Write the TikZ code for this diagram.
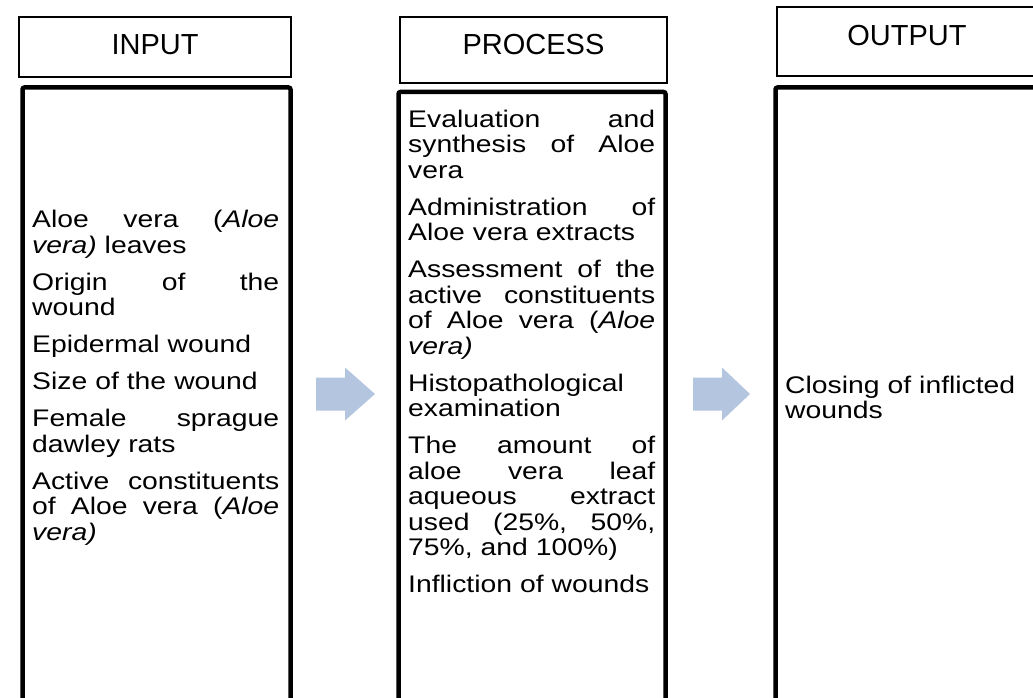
\documentclass[tikz,border=0pt]{standalone}
\usepackage{fontspec}
\setmainfont{Liberation Sans}
\newfontfamily\bodyfnt[FakeStretch=1.18]{Liberation Sans}
\definecolor{arrowblue}{RGB}{180,197,223}
\newcommand{\jl}[1]{\leavevmode\hbox to 247pt{#1}}
\newcommand{\fs}{\rule{0pt}{18pt}}
\newcommand{\nl}{\hfil\break}
\newcommand{\gap}{ \hfill}
\newcommand{\bodysetup}{\setlength\parindent{0pt}\setlength\parskip{11.5pt}}
\begin{document}
\begin{tikzpicture}[x=1pt,y=-1pt,
  headbox/.style={draw=black, line width=1.2pt, rectangle, inner sep=0pt},
  headtext/.style={font=\fontsize{29}{34}\selectfont, inner sep=0pt},
  bodybox/.style={draw=black, line width=4.5pt, rounded corners=2pt, rectangle, inner sep=0pt},
  bodytext/.style={font=\bodyfnt\fontsize{24}{25.5}\selectfont, text width=247pt, inner sep=0pt, anchor=north west},
  flowarrow/.style={fill=arrowblue}]
\useasboundingbox (0,0) rectangle (1033,698);
\clip (0,0) rectangle (1033,698);

% headers
\node[headbox, minimum width=272pt, minimum height=60pt] (hin) at (155,47) {};
\node[headtext] (tin) at (155,45) {INPUT};
\node[headbox, minimum width=267pt, minimum height=66pt] (hpro) at (533.5,50) {};
\node[headtext] (tpro) at (533.5,45) {PROCESS};
\node[headbox, minimum width=260pt, minimum height=69pt] (hout) at (907,41.5) {};
\node[headtext] (tout) at (907,36) {OUTPUT};

% body boxes
\node[bodybox, minimum width=268pt, minimum height=640pt] (bin) at (156.5,407.5) {};
\node[bodybox, minimum width=267pt, minimum height=640pt] (bpro) at (532,412) {};
\node[bodybox, minimum width=270pt, minimum height=640pt] (bout) at (910.5,407.5) {};

% body texts
\node[bodytext] (xin) at (32,209.5) {\bodysetup
\jl{\fs Aloe\gap vera\gap (\textit{Aloe}}\nl
\textit{vera)} leaves\par
\jl{Origin\gap of\gap the}\nl
wound\par
Epidermal wound\par
Size of the wound\par
\jl{Female\gap sprague}\nl
dawley rats\par
\jl{Active\gap constituents}\nl
\jl{of\gap Aloe\gap vera\gap (\textit{Aloe}}\nl
\textit{vera)}\par};

\node[bodytext] (xpro) at (408,109) {\bodysetup
\jl{\fs Evaluation\gap and}\nl
\jl{synthesis\gap of\gap Aloe}\nl
vera\par
\jl{Administration\gap of}\nl
Aloe vera extracts\par
\jl{Assessment\gap of\gap the}\nl
\jl{active\gap constituents}\nl
\jl{of\gap Aloe\gap vera\gap (\textit{Aloe}}\nl
\textit{vera)}\par
Histopathological\nl
examination\par
\jl{The\gap amount\gap of}\nl
\jl{aloe\gap vera\gap leaf}\nl
\jl{aqueous\gap extract}\nl
\jl{used\gap (25\%,\gap 50\%,}\nl
75\%, and 100\%)\par
Infliction of wounds\par};

\node[bodytext] (xout) at (785,375) {\bodysetup
\fs Closing of inflicted\nl
wounds\par};

% arrows
\fill[flowarrow] (316,377.5) -- (345,377.5) -- (345,367.5) -- (375,394) -- (345,420.5) -- (345,410.5) -- (316,410.5) -- cycle;
\fill[flowarrow] (693,377.5) -- (722,377.5) -- (722,367.5) -- (750,394) -- (722,420.5) -- (722,410.5) -- (693,410.5) -- cycle;
\end{tikzpicture}
\end{document}
